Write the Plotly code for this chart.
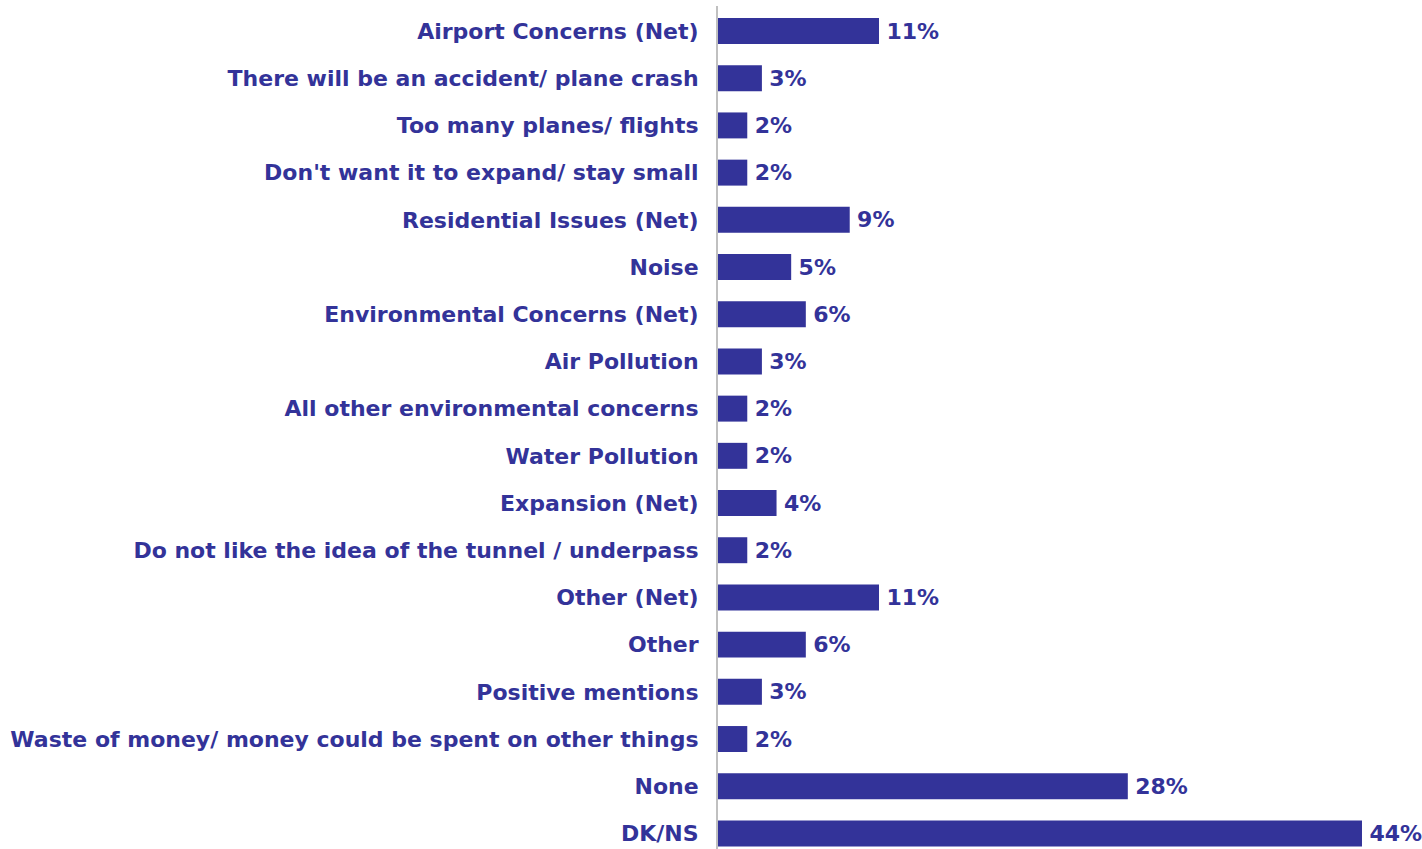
import plotly.graph_objects as go

categories = [
    "Airport Concerns (Net)",
    "There will be an accident/ plane crash",
    "Too many planes/ flights",
    "Don't want it to expand/ stay small",
    "Residential Issues (Net)",
    "Noise",
    "Environmental Concerns (Net)",
    "Air Pollution",
    "All other environmental concerns",
    "Water Pollution",
    "Expansion (Net)",
    "Do not like the idea of the tunnel / underpass",
    "Other (Net)",
    "Other",
    "Positive mentions",
    "Waste of money/ money could be spent on other things",
    "None",
    "DK/NS",
]
values = [11, 3, 2, 2, 9, 5, 6, 3, 2, 2, 4, 2, 11, 6, 3, 2, 28, 44]

BAR = "#333399"
FAMILY = "DejaVu Sans, Liberation Sans, Arial, sans-serif"
FSIZE = 22

fig = go.Figure(
    go.Bar(
        y=categories,
        x=values,
        orientation="h",
        marker=dict(color=BAR, line=dict(width=0)),
        width=0.55,
        text=[f"{v}%" for v in values],
        texttemplate="\u2009%{text}",
        textposition="outside",
        textfont=dict(family=FAMILY, size=FSIZE, color=BAR, weight="bold"),
        cliponaxis=False,
    )
)

fig.update_layout(
    width=1422,
    height=849,
    margin=dict(l=718, r=0, t=6, b=0, autoexpand=False),
    plot_bgcolor="white",
    paper_bgcolor="white",
    showlegend=False,
    font=dict(family=FAMILY, size=FSIZE, color=BAR),
)
fig.update_xaxes(
    range=[0, 48.1],
    showgrid=False,
    zeroline=False,
    showticklabels=False,
    showline=False,
    fixedrange=True,
)
fig.update_yaxes(
    categoryorder="array",
    categoryarray=categories,
    range=[17.33, -0.53],
    showgrid=False,
    zeroline=False,
    showline=True,
    linecolor="#c0c0c0",
    linewidth=2,
    ticks="",
    ticklabelstandoff=13,
    tickfont=dict(family=FAMILY, size=FSIZE, color=BAR, weight="bold"),
    automargin=False,
    fixedrange=True,
)

fig.write_html(
    "out.html",
    config={"displayModeBar": False, "staticPlot": True},
    post_script="document.body.style.margin='0';document.body.style.overflow='hidden';",
)
